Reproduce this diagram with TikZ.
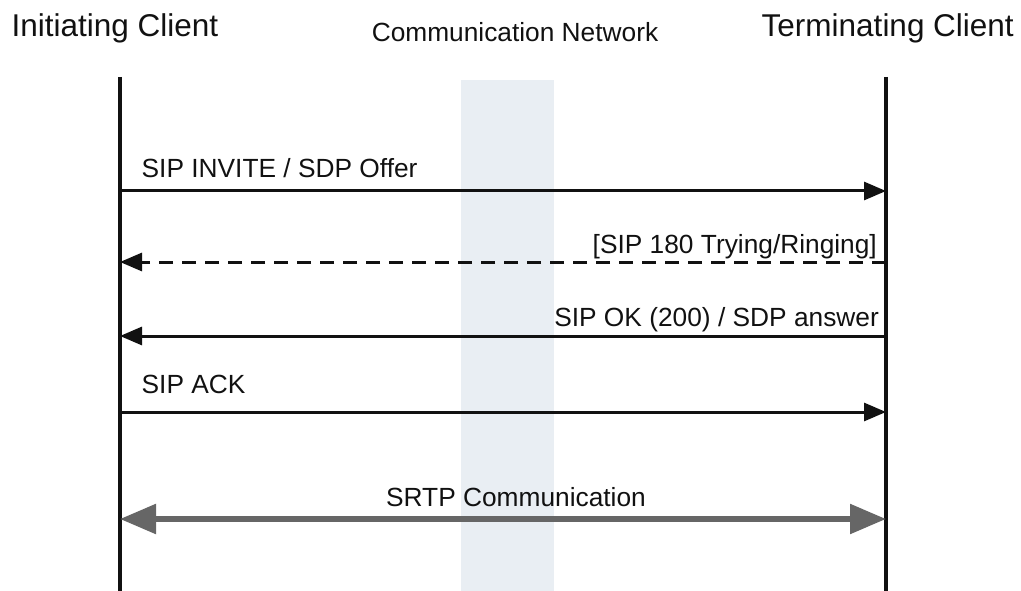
\documentclass[tikz,border=0pt]{standalone}
\usepackage{fontspec}
\setmainfont{Liberation Sans}
\usetikzlibrary{arrows.meta}
\definecolor{bandcol}{HTML}{E9EEF3}
\definecolor{srtpcol}{HTML}{666666}
\definecolor{inkcol}{HTML}{111111}
\begin{document}
\begin{tikzpicture}[x=1pt,y=-1pt,
  lifeline/.style={draw=inkcol,line width=3.4pt},
  titletext/.style={inner sep=0pt,text=inkcol,font=\fontsize{31.5}{36}\selectfont},
  nettext/.style={inner sep=0pt,text=inkcol,font=\fontsize{26.3}{30}\selectfont},
  msgtext/.style={inner sep=0pt,text=inkcol,font=\fontsize{26.3}{30}\selectfont},
  msg/.style={draw=inkcol,line width=3pt,-{Triangle[length=22pt,width=18pt]}},
  reply/.style={msg,dash pattern=on 14pt off 9pt},
  media/.style={draw=srtpcol,line width=5.5pt,{Triangle[length=36pt,width=29pt]}-{Triangle[length=36pt,width=29pt]}}
]
\useasboundingbox (0,0) rectangle (1021,591);
% network band
\fill[bandcol] (461,80) rectangle (554,591);
% titles
\node[titletext,anchor=base west] (tinit) at (11.5,36.5) {Initiating Client};
\node[nettext,anchor=base] (tnet) at (515,42) {Communication Network};
\node[titletext,anchor=base east] (tterm) at (1014,36.5) {Terminating Client};
% lifelines
\coordinate (itop) at (120,77);
\coordinate (ibot) at (120,591);
\coordinate (ttop) at (886,77);
\coordinate (tbot) at (886,591);
\draw[lifeline] (itop) -- (ibot);
\draw[lifeline] (ttop) -- (tbot);
% message anchor points
\coordinate (i1) at (120,191);   \coordinate (t1) at (886,191);
\coordinate (i2) at (120,262);   \coordinate (t2) at (886,262);
\coordinate (i3) at (120,336);   \coordinate (t3) at (886,336);
\coordinate (i4) at (120,412);   \coordinate (t4) at (886,412);
\coordinate (i5) at (120,519);   \coordinate (t5) at (886,519);
% messages
\draw[msg] (i1) -- (t1);
\node[msgtext,anchor=base west] (l1) at (141.5,178) {SIP INVITE / SDP Offer};
\draw[reply] (t2) -- (i2);
\node[msgtext,anchor=base east] (l2) at (877,253) {[SIP 180 Trying/Ringing]};
\draw[msg] (t3) -- (i3);
\node[msgtext,anchor=base east] (l3) at (879,326) {SIP OK (200) / SDP answer};
\draw[msg] (i4) -- (t4);
\node[msgtext,anchor=base west] (l4) at (141.5,393) {SIP ACK};
\draw[media] (i5) -- (t5);
\node[msgtext,anchor=base] (l5) at (516,506.5) {SRTP Communication};
\end{tikzpicture}
\end{document}
